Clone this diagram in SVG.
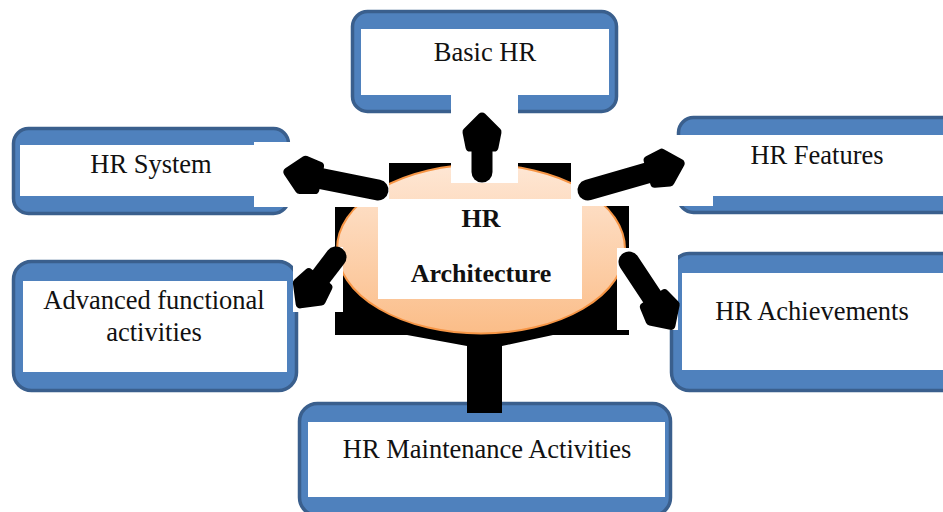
<svg xmlns="http://www.w3.org/2000/svg" width="943" height="512" viewBox="0 0 943 512">
<style>
.box{fill:#4f81bd;stroke:#3a5f8d;stroke-width:3.5}
.inner{fill:#ffffff}
.lbl{font-family:"Liberation Serif","Times New Roman",serif;font-size:26.5px;fill:#111;text-anchor:middle}
.bold{font-family:"Liberation Serif","Times New Roman",serif;font-size:26px;font-weight:bold;fill:#111;text-anchor:middle}
.wb{fill:#ffffff}
.shaft{stroke:#000;stroke-width:21;stroke-linecap:round}
.head{fill:#000;stroke:#000;stroke-width:9;stroke-linejoin:round}
</style>
<defs>
<linearGradient id="peach" x1="0" y1="0" x2="0" y2="1">
<stop offset="0" stop-color="#fee7d5"/>
<stop offset="1" stop-color="#fbbd88"/>
</linearGradient>
</defs>
<rect width="943" height="512" fill="#ffffff"/>

<g id="basic-hr">
<rect class="box" x="352.5" y="11.5" width="264" height="100" rx="15"/>
<rect class="inner" x="361" y="29" width="248" height="66"/>
<text class="lbl" x="485" y="61">Basic HR</text>
</g>
<g id="hr-system">
<rect class="box" x="13.5" y="128.5" width="275" height="85" rx="15"/>
<rect class="inner" x="20" y="145" width="262" height="51"/>
<text class="lbl" x="151" y="173">HR System</text>
</g>
<g id="hr-features">
<rect class="box" x="678.5" y="117.5" width="290" height="95" rx="15"/>
<rect class="inner" x="687" y="135" width="260" height="61"/>
<text class="lbl" x="817" y="164">HR Features</text>
</g>
<g id="advanced">
<rect class="box" x="13.5" y="261.5" width="283" height="129" rx="18"/>
<rect class="inner" x="23" y="281" width="264" height="91"/>
<text class="lbl" x="154" y="309">Advanced functional</text>
<text class="lbl" x="154" y="341">activities</text>
</g>
<g id="hr-achievements">
<rect class="box" x="671.5" y="253.5" width="290" height="137" rx="18"/>
<rect class="inner" x="682" y="273" width="265" height="97"/>
<text class="lbl" x="812" y="320">HR Achievements</text>
</g>
<g id="hr-maintenance">
<rect class="box" x="299.5" y="403.5" width="371" height="112" rx="18"/>
<rect class="inner" x="308" y="422" width="357" height="75"/>
<text class="lbl" x="487" y="458">HR Maintenance Activities</text>
</g>

<g id="hr-architecture">
<path d="M335,163 H629 V335 H553 L502,346 V413 H467 V346 L407,335 H335 Z" fill="#000"/>
<ellipse cx="481" cy="249" rx="144" ry="84.5" fill="url(#peach)" stroke="#f79646" stroke-width="2"/>
<rect class="wb" x="254" y="142" width="135" height="65"/>
<rect class="wb" x="451" y="95" width="67" height="88"/>
<rect class="wb" x="571" y="135" width="142" height="71"/>
<rect class="wb" x="293" y="247" width="50" height="65"/>
<rect class="wb" x="617" y="248" width="61" height="82"/>
<rect class="wb" x="378" y="199" width="204" height="100"/>
<text class="bold" x="481" y="227">HR</text>
<text class="bold" x="481" y="282">Architecture</text>
</g>

<g id="connectors">
<g transform="translate(482,172) rotate(-90)">
<line class="shaft" x1="0" y1="0" x2="30" y2="0"/>
<polygon class="head" points="55,0 40,-15 25,-12 25,12 40,15"/>
</g>
<g transform="translate(378,190) rotate(191.3)">
<line class="shaft" x1="0" y1="0" x2="67" y2="0"/>
<polygon class="head" points="92,0 77,-15 62,-12 62,12 77,15"/>
</g>
<g transform="translate(588,190) rotate(-16.1)">
<line class="shaft" x1="0" y1="0" x2="71" y2="0"/>
<polygon class="head" points="96,0 81,-15 66,-12 66,12 81,15"/>
</g>
<g transform="translate(336,257) rotate(127.4)">
<line class="shaft" x1="0" y1="0" x2="34" y2="0"/>
<polygon class="head" points="59,0 44,-15 29,-12 29,12 44,15"/>
</g>
<g transform="translate(629,262) rotate(56.5)">
<line class="shaft" x1="0" y1="0" x2="51" y2="0"/>
<polygon class="head" points="76,0 61,-15 46,-12 46,12 61,15"/>
</g>
</g>
</svg>
